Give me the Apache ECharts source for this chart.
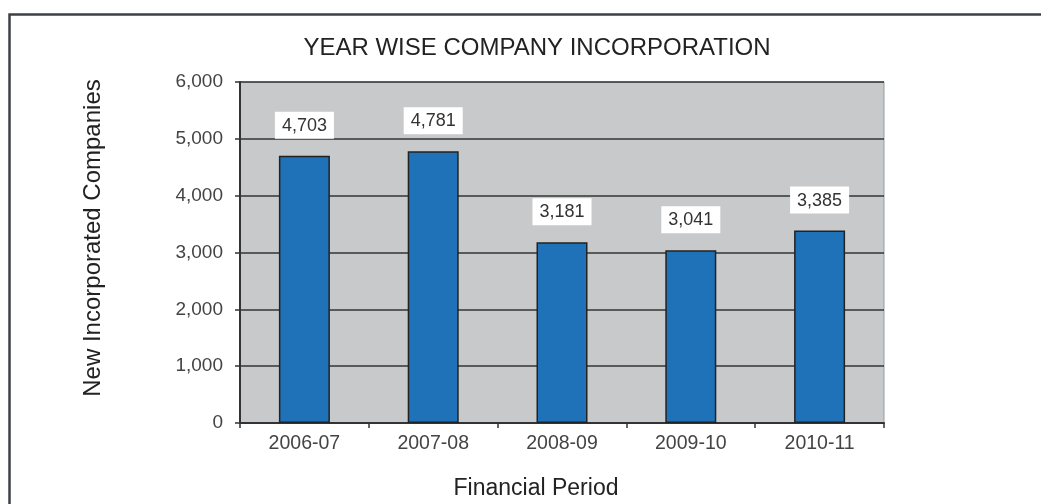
<!DOCTYPE html>
<html>
<head>
<meta charset="utf-8">
<script src="https://cdn.jsdelivr.net/npm/echarts@6/dist/echarts.min.js"></script>
<style>
  html, body { margin: 0; padding: 0; background: #fff; }
  #main { width: 1041px; height: 504px; }
</style>
</head>
<body>
<div id="main"></div>
<script>
// 年度公司注册数据
const periods = ['2006-07', '2007-08', '2008-09', '2009-10', '2010-11'];
const companies = [4703, 4781, 3181, 3041, 3385];
const yTicks = [0, 1000, 2000, 3000, 4000, 5000, 6000];

const font = 'Liberation Sans, Arial, sans-serif';
const chart = echarts.init(document.getElementById('main'));

const option = {
  animation: false,
  backgroundColor: '#fff',
  title: [
    {
      text: 'YEAR WISE COMPANY INCORPORATION',
      left: 532,
      textAlign: 'center',
      top: 31,
      textStyle: { fontFamily: font, fontSize: 24, fontWeight: 'normal', color: '#222' }
    },
    {
      text: 'Financial Period',
      left: 531,
      textAlign: 'center',
      top: 472,
      textStyle: { fontFamily: font, fontSize: 23, fontWeight: 'normal', color: '#222' }
    }
  ],
  graphic: [
    { // outer frame
      type: 'rect',
      shape: { x: 9.5, y: 14.5, width: 1100, height: 600 },
      style: { fill: 'none', stroke: '#3c4148', lineWidth: 2.5 },
      silent: true
    },
    { // y axis title
      type: 'text',
      x: 93, y: 238,
      rotation: Math.PI / 2,
      style: {
        text: 'New Incorporated Companies',
        font: '24px ' + font,
        fill: '#222',
        textAlign: 'center',
        textVerticalAlign: 'middle'
      },
      silent: true
    }
  ],
  grid: {
    left: 240, top: 82, width: 644, height: 341,
    show: true, backgroundColor: '#c8c9cb', borderColor: '#9a9b9d', borderWidth: 1
  },
  xAxis: {
    type: 'category',
    data: periods,
    axisLine: { lineStyle: { color: '#333', width: 2 } },
    axisTick: { show: true, length: 5, lineStyle: { color: '#333', width: 1.5 } },
    axisLabel: { fontFamily: font, fontSize: 19.5, color: '#444', margin: 11 }
  },
  yAxis: {
    type: 'value',
    min: 0, max: 6000, interval: 1000,
    axisLine: { show: true, lineStyle: { color: '#333', width: 2 } },
    axisTick: { show: true, length: 5, lineStyle: { color: '#333', width: 1.5 } },
    axisLabel: {
      fontFamily: font, fontSize: 19, color: '#444', margin: 17,
      formatter: v => yTicks.includes(v) ? v.toLocaleString('en-US') : ''
    },
    splitLine: { lineStyle: { color: '#333', width: 1.5 } }
  },
  series: [{
    type: 'bar',
    data: companies,
    barWidth: 51,
    itemStyle: { color: '#1f72b8', borderColor: '#222', borderWidth: 1.5 },
    label: {
      show: true,
      position: 'top',
      distance: 17,
      fontFamily: font, fontSize: 18, color: '#333',
      backgroundColor: '#fff',
      padding: [5, 7, 4, 7],
      formatter: p => p.value.toLocaleString('en-US')
    }
  }]
};

chart.setOption(option);
</script>
</body>
</html>
